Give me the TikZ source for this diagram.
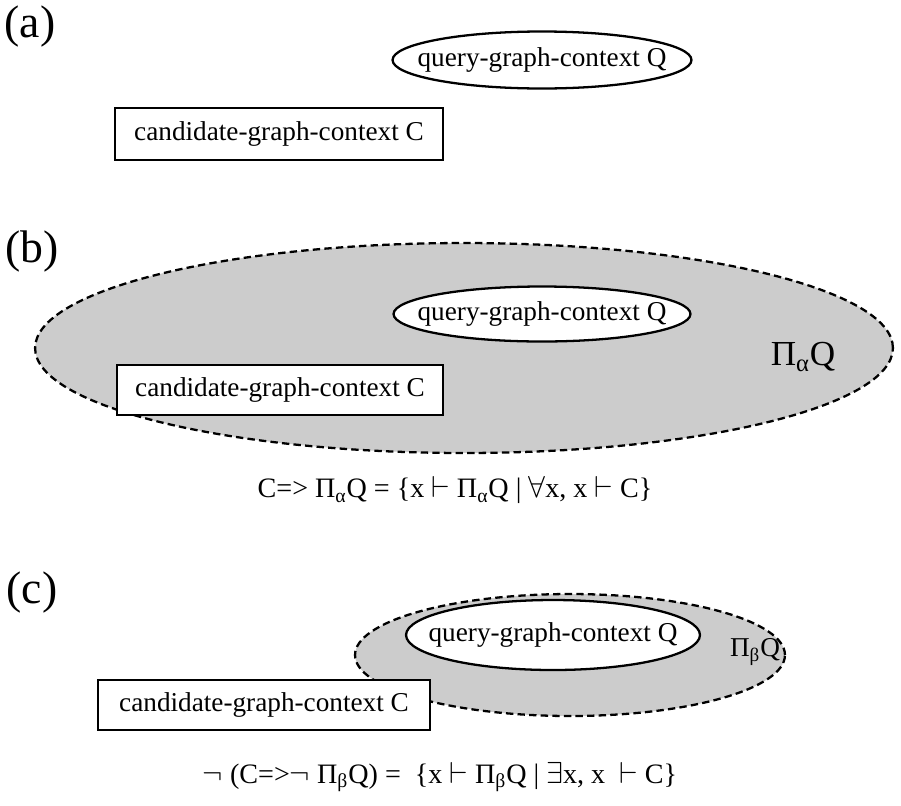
\documentclass[tikz,border=0pt]{standalone}
\usepackage{amsmath}
\usepackage{amssymb}
\usepackage{fontspec}
\setmainfont{Liberation Serif}
\usepackage{tikz}
\usetikzlibrary{shapes.geometric}

\definecolor{halftone}{gray}{0.80}
\newcommand{\ctxtext}[1]{\makebox[0pt]{#1}}

\begin{document}
\begin{tikzpicture}[x=0.02cm, y=-0.02cm,
    panel/.style={font=\fontsize{26}{30}\selectfont},
    ctxbox/.style={draw, line width=1pt, fill=white, rectangle,
        font=\fontsize{15.5}{18}\selectfont},
    qellipse/.style={draw, line width=1.3pt, fill=white, ellipse, inner sep=0pt,
        font=\fontsize{15.5}{18}\selectfont},
    region/.style={draw, ellipse, fill=halftone, line width=1.3pt,
        dash pattern=on 4.2pt off 2.4pt},
    formula/.style={font=\fontsize{16}{19}\selectfont}]
    \useasboundingbox (0,0) rectangle (901,805);

    % Panel (a)
    \node[panel] (la) at (30,27) {(a)};
    \node[qellipse, minimum width=5.98cm, minimum height=1.14cm] (qa) at (542,60) {\ctxtext{query-graph-context Q}};
    \node[ctxbox, minimum width=6.56cm, minimum height=1.04cm] (ca) at (279,134) {candidate-graph-context C};

    % Panel (b)
    \node[panel] (lb) at (32,252) {(b)};
    \node[region, minimum width=17.16cm, minimum height=4.2cm] (pa) at (464,348) {};
    \node[qellipse, minimum width=5.94cm, minimum height=1.1cm] (qb) at (542,314) {\ctxtext{query-graph-context Q}};
    \node[ctxbox, minimum width=6.52cm, minimum height=1.0cm] (cb) at (280,390) {candidate-graph-context C};
    \node[font=\fontsize{20}{24}\selectfont] (pal) at (803,357) {Π\textsubscript{α}Q};
    \node[formula] (fb) at (455,490) {C=> Π\textsubscript{α}Q = \{x $\vdash$ Π\textsubscript{α}Q | $\forall$x, x $\vdash$ C\}};

    % Panel (c)
    \node[panel] (lc) at (32,593) {(c)};
    \node[region, minimum width=8.6cm, minimum height=2.44cm] (pb) at (570,655) {};
    \node[qellipse, minimum width=5.88cm, minimum height=1.4cm] (qc) at (553,635) {\ctxtext{query-graph-context Q}};
    \node[ctxbox, minimum width=6.64cm, minimum height=1.0cm] (cc) at (264,705) {candidate-graph-context C};
    \node[font=\fontsize{15.5}{18}\selectfont] (pbl) at (755,652) {Π\textsubscript{β}Q};
    \node[formula] (fc) at (440,777) {$\neg$ (C=>$\neg$ Π\textsubscript{β}Q) = \ \{x $\vdash$ Π\textsubscript{β}Q | $\exists$x, x \ $\vdash$ C\}};
\end{tikzpicture}
\end{document}
